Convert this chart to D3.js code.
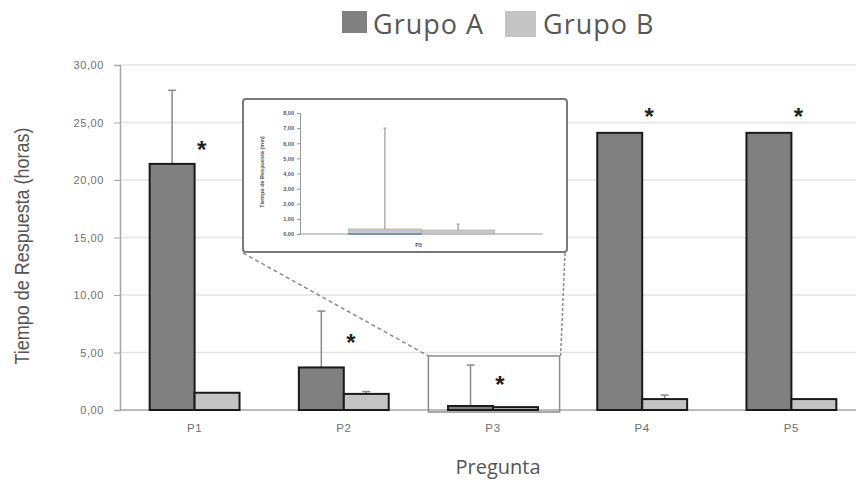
<!DOCTYPE html>
<html><head><meta charset="utf-8">
<script src="https://cdn.jsdelivr.net/npm/d3@7"></script>
<style>body{margin:0;background:#fff}svg{display:block}</style>
</head><body><svg id="c" width="856" height="480"></svg>
<script>
// ---- data ----
const categories = ["P1","P2","P3","P4","P5"];
const series = ["Grupo A","Grupo B"];
const grupoA = [21.4, 3.7, 0.35, 24.1, 24.1];
const grupoB = [1.5, 1.4, 0.25, 0.95, 0.95];
const errA = [6.4, 4.9, 3.55, 0, 0];
const errB = [0, 0.2, 0, 0.35, 0];
const starY = [23.0, 6.2, 2.5, 25.8, 25.8];
const yTicks = [0, 5, 10, 15, 20, 25, 30];
const zoomTop = 4.7; // value covered by the zoom box on P3
// inset (P3 in minutes)
const insetCategories = ["P3"];
const insetA = [0.33];
const insetB = [0.26];
const insetErrA = [6.67];
const insetErrB = [0.4];
const insetTicks = [0,1,2,3,4,5,6,7,8];

const colors = {"Grupo A":"#808080","Grupo B":"#c4c4c4"};
const fmt = d3.formatLocale({decimal:",",thousands:".",grouping:[3],currency:["","€"]}).format(".2f");
const svg = d3.select("#c");

// ---- main scales ----
const x0 = d3.scaleBand().domain(categories).range([120, 866]).padding(0);
const x1 = d3.scaleBand().domain(series).range([0, x0.bandwidth()]).paddingInner(0).paddingOuter(0.66);
const y = d3.scaleLinear().domain([0, 30]).range([410, 65]);

// gridlines
svg.append("g").selectAll("line").data(yTicks.filter(d=>d>0)).join("line")
  .attr("x1",120).attr("x2",856).attr("y1",d=>y(d)).attr("y2",d=>y(d))
  .attr("stroke","#e4e4e4").attr("stroke-width",1.5);

// y axis
const yAxis = d3.axisLeft(y).tickValues(yTicks).tickFormat(fmt).tickSize(6).tickPadding(10);
const gy = svg.append("g").attr("transform","translate(120,0)").call(yAxis);
gy.select(".domain").attr("stroke","#a6a6a6").attr("stroke-width",1.5);
gy.selectAll(".tick line").attr("stroke","#a6a6a6");
gy.selectAll(".tick text").attr("fill","#707070").style("font","11px 'Liberation Sans', Arial, sans-serif").style("letter-spacing","0.6px");

// x baseline
svg.append("line").attr("x1",120).attr("x2",856).attr("y1",y(0)).attr("y2",y(0))
  .attr("stroke","#a6a6a6").attr("stroke-width",1.5);

// x labels
svg.append("g").selectAll("text").data(categories).join("text")
  .attr("x",d=>x0(d)+x0.bandwidth()/2).attr("y",432).attr("text-anchor","middle")
  .attr("fill","#707070").style("font","11.5px 'Liberation Sans', Arial, sans-serif").style("letter-spacing","0.6px").text(d=>d);

// zoom box on P3 + connectors (drawn under bars)
const zb = {x1: x0("P3")+10, x2: x0("P3")+x0.bandwidth()-8, top: y(zoomTop), bottom: y(0)+2};
const inset = {x:243, y:99, w:324, h:153};
svg.append("rect").attr("x",zb.x1).attr("y",zb.top).attr("width",zb.x2-zb.x1).attr("height",zb.bottom-zb.top)
  .attr("fill","none").attr("stroke","#8c8c8c").attr("stroke-width",1.5);
svg.append("line").attr("x1",inset.x).attr("y1",inset.y+inset.h+1).attr("x2",zb.x1).attr("y2",zb.top)
  .attr("stroke","#8c8c8c").attr("stroke-width",1.5).attr("stroke-dasharray","4,3");
svg.append("line").attr("x1",inset.x+inset.w-2).attr("y1",inset.y+inset.h+1).attr("x2",zb.x2+1).attr("y2",zb.top)
  .attr("stroke","#8c8c8c").attr("stroke-width",1.5).attr("stroke-dasharray","3,2");

// bars
const rows = categories.map((c,i)=>({cat:c, vals:[
  {s:"Grupo A", v:grupoA[i], e:errA[i]},
  {s:"Grupo B", v:grupoB[i], e:errB[i]}]}));
const groups = svg.append("g").selectAll("g").data(rows).join("g")
  .attr("transform",d=>`translate(${x0(d.cat)},0)`);
groups.selectAll("g.err").data(d=>d.vals.filter(v=>v.e>0)).join("g").attr("class","err").each(function(d){
  const g = d3.select(this), cx = x1(d.s)+x1.bandwidth()/2;
  g.append("line").attr("x1",cx).attr("x2",cx).attr("y1",y(d.v)).attr("y2",y(d.v+d.e)).attr("stroke","#8a8a8a").attr("stroke-width",1.5);
  g.append("line").attr("x1",cx-4).attr("x2",cx+4).attr("y1",y(d.v+d.e)).attr("y2",y(d.v+d.e)).attr("stroke","#8a8a8a").attr("stroke-width",1.5);
});
groups.selectAll("rect").data(d=>d.vals).join("rect")
  .attr("x",d=>x1(d.s)).attr("width",x1.bandwidth())
  .attr("y",d=>y(d.v)).attr("height",d=>y(0)-y(d.v))
  .attr("fill",d=>colors[d.s]).attr("stroke","#1a1a1a").attr("stroke-width",2);

// stars
svg.append("g").selectAll("text").data(categories).join("text")
  .attr("x",(d)=>x0(d)+x0.bandwidth()/2+7).attr("y",(d,i)=>y(starY[i])+12)
  .attr("text-anchor","middle").attr("fill","#222")
  .style("font","bold 24px 'Liberation Sans', Arial, sans-serif").text("*");

// ---- inset ----
svg.append("rect").attr("x",inset.x).attr("y",inset.y).attr("width",inset.w).attr("height",inset.h)
  .attr("rx",3).attr("fill","#fff").attr("stroke","#7a7a7a").attr("stroke-width",2);
const xi = d3.scaleBand().domain(insetCategories).range([300, 543]);
const xi1 = d3.scaleBand().domain(series).range([0, xi.bandwidth()]).paddingOuter(0.66);
const yi = d3.scaleLinear().domain([0, 8]).range([234, 113]);
const ai = d3.axisLeft(yi).tickValues(insetTicks).tickFormat(fmt).tickSize(3).tickPadding(3);
const gyi = svg.append("g").attr("transform","translate(300,0)").call(ai);
gyi.select(".domain").attr("stroke","#999").attr("stroke-width",1);
gyi.selectAll(".tick line").attr("stroke","#999");
gyi.selectAll(".tick text").attr("fill","#555").style("font","bold 5.5px 'Liberation Sans', Arial, sans-serif");
svg.append("line").attr("x1",300).attr("x2",543).attr("y1",yi(0)).attr("y2",yi(0)).attr("stroke","#999").attr("stroke-width",1.2);
const irows = insetCategories.map((c,i)=>[{s:"Grupo A",v:insetA[i],e:insetErrA[i],c},{s:"Grupo B",v:insetB[i],e:insetErrB[i],c}]).flat();
const ig = svg.append("g");
ig.selectAll("rect").data(irows).join("rect")
  .attr("x",d=>xi(d.c)+xi1(d.s)).attr("width",xi1.bandwidth())
  .attr("y",d=>yi(d.v)).attr("height",d=>yi(0)-yi(d.v))
  .attr("fill","#c8c8c8").attr("stroke","#b0b0b0").attr("stroke-width",0.8);
ig.selectAll("line.b").data(irows.filter(d=>d.s==="Grupo A")).join("line").attr("class","b")
  .attr("x1",d=>xi(d.c)+xi1(d.s)).attr("x2",d=>xi(d.c)+xi1(d.s)+xi1.bandwidth())
  .attr("y1",yi(0)).attr("y2",yi(0)).attr("stroke","#5b86b8").attr("stroke-width",1.5);
irows.forEach(d=>{
  const cx = xi(d.c)+xi1(d.s)+xi1.bandwidth()/2;
  ig.append("line").attr("x1",cx).attr("x2",cx).attr("y1",yi(d.v)).attr("y2",yi(d.v+d.e)).attr("stroke","#999").attr("stroke-width",1.2);
  ig.append("line").attr("x1",cx-1.5).attr("x2",cx+1.5).attr("y1",yi(d.v+d.e)).attr("y2",yi(d.v+d.e)).attr("stroke","#999").attr("stroke-width",1);
});
svg.append("text").attr("x",xi("P3")+xi.bandwidth()/2-3).attr("y",247).attr("text-anchor","middle")
  .attr("fill","#555").style("font","bold 5.5px 'Liberation Sans', Arial, sans-serif").text("P3");
svg.append("text").attr("transform","translate(264,172) rotate(-90)").attr("text-anchor","middle")
  .attr("fill","#555").style("font","bold 5.5px 'Liberation Sans', Arial, sans-serif").text("Tiempo de Respuesta (min)");

// ---- titles ----
svg.append("text").attr("transform","translate(29,246) rotate(-90)").attr("text-anchor","middle")
  .attr("fill","#555").attr("textLength",237).attr("lengthAdjust","spacingAndGlyphs")
  .style("font","20px 'Liberation Sans', Arial, sans-serif").text("Tiempo de Respuesta (horas)");
svg.append("text").attr("x",498).attr("y",474).attr("text-anchor","middle")
  .attr("fill","#555").style("font","20px 'Open Sans', sans-serif").text("Pregunta");

// ---- legend ----
const leg = svg.append("g");
const legX = [342, 505];
series.forEach((s,i)=>{
  leg.append("rect").attr("x",legX[i]).attr("y",11).attr("width",i?31:25).attr("height",i?26:22).attr("fill",colors[s]);
  leg.append("text").attr("x",legX[i]+(i?38:31)).attr("y",34).attr("fill","#575757")
    .style("font","27px 'Open Sans', sans-serif").style("letter-spacing","1px").text(s);
});
</script></body></html>
